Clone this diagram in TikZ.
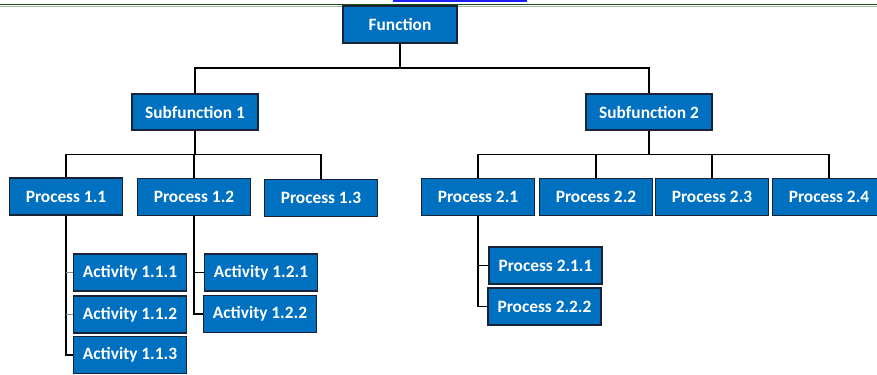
\documentclass[tikz,border=0pt]{standalone}
\usepackage{fontspec}
\setmainfont{Carlito}
\usetikzlibrary{shadows}
\definecolor{boxblue}{RGB}{0,112,192}
\definecolor{boxedge}{RGB}{25,35,55}
\definecolor{rulegreen}{RGB}{25,75,25}
\definecolor{linkblue}{RGB}{30,30,240}
\tikzset{
  blk/.style  = {draw=boxedge, line width=0.9pt, fill=boxblue, text=white,
                 font=\fontsize{14.8}{17}\selectfont\bfseries,
                 minimum width=3.39cm, minimum height=1.11cm, inner sep=0pt,
                 drop shadow={shadow xshift=0.8pt, shadow yshift=-0.8pt, opacity=0.35}},
  wideblk/.style = {blk, minimum width=3.78cm, minimum height=1.08cm},
  link/.style = {line width=1.2pt, black},
  tick/.style = {line width=0.6pt, black!45}
}
\begin{document}
\begin{tikzpicture}[x=0.03cm, y=-0.03cm]
        \useasboundingbox (0,0) rectangle (877,375);
        % page rule and link remnant
        \draw[rulegreen!40, line width=1.2pt] (0,6.5) -- (877,6.5);
        \draw[rulegreen, line width=1.4pt] (0,4.5) -- (877,4.5);
        \draw[linkblue, line width=1.4pt] (393,1) -- (527,1);

        % boxes
        \node[blk, minimum width=3.42cm] (fn) at (400,24.5) {Function};
        \node[wideblk] (sfa) at (195,112) {Subfunction 1};
        \node[wideblk] (sfb) at (649,112) {Subfunction 2};

        \node[blk] (pa) at (66,196.5) {Process 1.1};
        \node[blk] (pb) at (194,197)  {Process 1.2};
        \node[blk] (pc) at (321,198)  {Process 1.3};
        \node[blk] (pd) at (478,197)  {Process 2.1};
        \node[blk] (pe) at (596,197)  {Process 2.2};
        \node[blk] (pf) at (712,197)  {Process 2.3};
        \node[blk] (pg) at (829,197)  {Process 2.4};

        \node[blk] (a111) at (130,272.5) {Activity 1.1.1};
        \node[blk] (a112) at (130,314.5) {Activity 1.1.2};
        \node[blk] (a113) at (130,355)   {Activity 1.1.3};
        \node[blk] (a121) at (261,272.5) {Activity 1.2.1};
        \node[blk] (a122) at (260,314)   {Activity 1.2.2};
        \node[blk] (q211) at (545.5,265.5) {Process 2.1.1};
        \node[blk] (q222) at (544.5,306.5) {Process 2.2.2};

        % connectors
        \coordinate (j0) at (400,68);
        \coordinate (j1) at (195,154.5);
        \coordinate (j2) at (649,154.5);

        \draw[link] (fn.south) -- (j0);
        \draw[link] (sfa.north) |- (j0) -| (sfb.north);

        \draw[link] (sfa.south) -- (j1);
        \draw[link] (pa.north) |- (j1) -| (pc.north);
        \draw[link] (pb.north) -- (pb.north |- j1);

        \draw[link] (sfb.south) -- (j2);
        \draw[link] (pd.north) |- (j2) -| (pg.north);
        \draw[link] (pe.north) -- (pe.north |- j2);
        \draw[link] (pf.north) -- (pf.north |- j2);

        \draw[link] (pa.south) |- (a113.west);
        \draw[tick] (a111.west) -- (a111.west -| pa.south);
        \draw[tick] (a112.west) -- (a112.west -| pa.south);

        \draw[link] (pb.south) |- (a122.west);
        \draw[link] (a121.west) -- (a121.west -| pb.south);

        \draw[link] (pd.south) |- (q222.west);
        \draw[link] (q211.west) -- (q211.west -| pd.south);
\end{tikzpicture}
\end{document}
